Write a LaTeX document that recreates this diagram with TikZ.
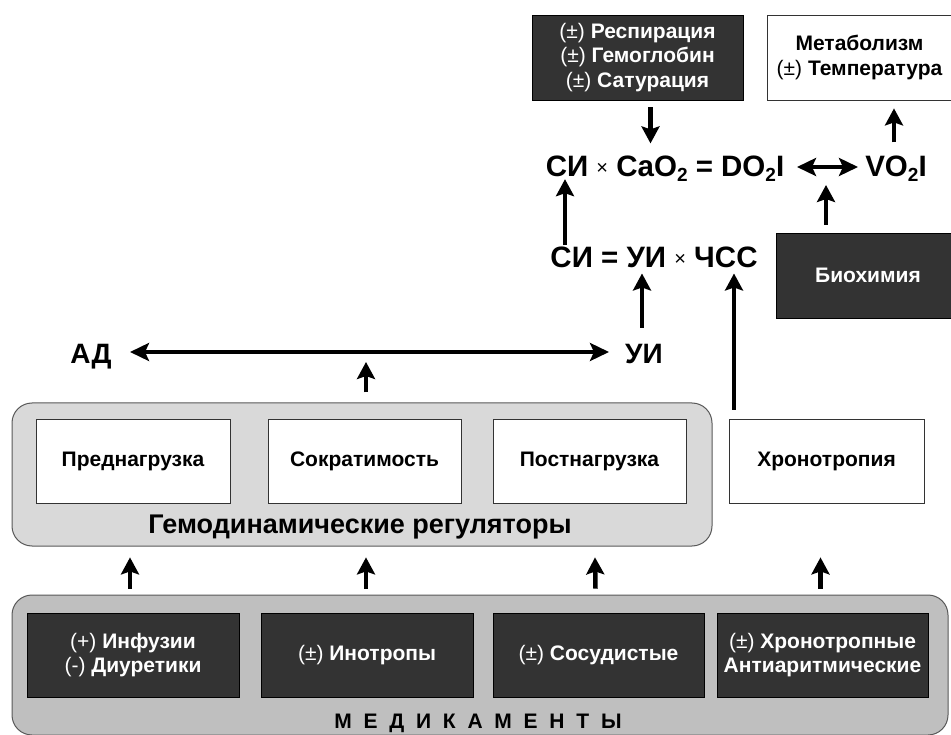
\documentclass[tikz,border=0pt]{standalone}
\usepackage{fontspec}
\setmainfont{Liberation Sans}
\usetikzlibrary{arrows.meta,calc}
\definecolor{boxdark}{HTML}{333333}
\definecolor{grayA}{HTML}{D9D9D9}
\definecolor{grayB}{HTML}{BFBFBF}
\definecolor{grayline}{HTML}{595959}
\newcommand\PMx{{\mdseries(±)}}
\newcommand\PLx{{\mdseries(+)}}
\newcommand\MIx{{\mdseries(-)}}
\newcommand\subtwo{\raisebox{-0.32ex}{\fontsize{19}{19}\selectfont 2}}
\newcommand\timesx{{\mdseries\fontsize{20}{20}\selectfont\raisebox{0.25ex}{×}}}
\newfontfamily\spacedfont[LetterSpace=56]{Liberation Sans}
\begin{document}
\begin{tikzpicture}[x=1pt,y=-1pt,
  darkbox/.style={draw=black, line width=0.8pt, fill=boxdark, text=white,
    font=\bfseries\fontsize{21}{24.5}\selectfont, align=center, inner sep=0pt},
  whitebox/.style={draw=black!80, line width=0.8pt, fill=white,
    font=\bfseries\fontsize{21}{24.5}\selectfont, align=center, inner sep=0pt},
  eqtext/.style={font=\bfseries\fontsize{29.5}{30}\selectfont, inner sep=0pt, anchor=base},
  arr/.style={line width=4.5pt, -{Stealth[width=18pt,length=17pt,inset=3pt]}},
  darr/.style={line width=4.5pt, {Stealth[width=18pt,length=19pt,inset=4pt]}-{Stealth[width=18pt,length=19pt,inset=4pt]}},
  panel/.style={draw=grayline, line width=1pt, rounded corners=20pt}
]
\useasboundingbox (0,0) rectangle (951,735);

% panels
\node[panel, fill=grayA, minimum width=700pt, minimum height=143pt] (hemo) at (362,474.5) {};
\node[panel, fill=grayB, minimum width=936pt, minimum height=140pt] (med) at (480,665) {};

% top boxes
\node[darkbox, minimum width=211pt, minimum height=85pt] (resp) at (637.5,57.5)
  {\PMx{} Респирация\\ \PMx{} Гемоглобин\\ \PMx{} Сатурация};
\node[whitebox, text=black, minimum width=184pt, minimum height=85pt] (meta) at (859.5,57.5)
  {Метаболизм\\ \PMx{} Температура};
\node[darkbox, minimum width=175pt, minimum height=85pt] (bio) at (863.5,275.5) {\hspace*{9pt}Биохимия};

% equations
\node[eqtext] (eqA) at (665,177) {СИ \timesx{} CaO\subtwo{} = DO\subtwo I};
\node[eqtext] (vo) at (896,177) {VO\subtwo I};
\node[eqtext] (eqB) at (654,268) {СИ = УИ \timesx{} ЧСС};
\node[eqtext, font=\bfseries\fontsize{28}{30}\selectfont] (ad) at (91,363) {АД};
\node[eqtext, font=\bfseries\fontsize{28}{30}\selectfont] (ui) at (644,363) {УИ};

% hemodynamic regulators
\node[whitebox, minimum width=194pt, minimum height=84pt] (pre) at (133,461) {Преднагрузка};
\node[whitebox, minimum width=193pt, minimum height=84pt] (sok) at (364.5,461) {Сократимость};
\node[whitebox, minimum width=193pt, minimum height=84pt] (post) at (589.5,461) {Постнагрузка};
\node[whitebox, minimum width=195pt, minimum height=84pt] (hron) at (826.5,461) {Хронотропия};
\node[font=\bfseries\fontsize{27}{28}\selectfont, inner sep=0pt] (hemolbl) at (360,527) {Гемодинамические регуляторы};

% medicaments
\node[darkbox, minimum width=212pt, minimum height=84pt] (m1) at (133,655) {\PLx{} Инфузии\\ \MIx{} Диуретики};
\node[darkbox, minimum width=212pt, minimum height=84pt] (m2) at (367,655) {\PMx{} Инотропы};
\node[darkbox, minimum width=211pt, minimum height=84pt] (m3) at (598.5,655) {\PMx{} Сосудистые};
\node[darkbox, minimum width=211pt, minimum height=84pt] (m4) at (822.5,655) {\PMx{} Хронотропные\\ Антиаритмические};
\node[font=\bfseries\fontsize{21}{24}\selectfont, inner sep=0pt] (medlbl) at (478,723) {\spacedfont\bfseries МЕДИКАМЕНТЫ};

% connector coordinates
\coordinate (adL) at (130,352);
\coordinate (adR) at (609,352);
\coordinate (admid) at (366,352);
\coordinate (dblL) at (797,167);
\coordinate (dblR) at (858,167);
\coordinate (dblmid) at (826,167);

% arrows
\draw[darr] (adL) -- (adR);
\draw[arr] ($(hemo.north -| admid)+(0,-10)$) -- ($(admid)+(0,10)$);
\draw[darr] (dblL) -- (dblR);
\draw[arr] ($(bio.north -| dblmid)+(0,-8)$) -- ($(dblmid)+(0,18)$);
\draw[arr] ($(resp.south)+(13,7)$) -- ($(resp.south)+(13,43)$);
\draw[arr] ($(meta.south -| vo)+(-2,42)$) -- ($(meta.south -| vo)+(-2,8)$);
\draw[arr] ($(eqB.north -| 565,0)+(0,-2)$) -- ($(eqA.south -| 565,0)+(0,-3)$);
\draw[arr] ($(ui.north -| 642,0)+(0,-16)$) -- ($(eqB.south -| 642,0)+(0,5)$);
\draw[arr] ($(hron.north -| 734,0)+(0,-9)$) -- ($(eqB.south -| 734,0)+(0,5)$);

\draw[arr] ($(m1.north)+(-3,-24)$) -- ($(pre.south)+(-3,54)$);
\draw[arr] ($(m2.north)+(-1,-24)$) -- ($(sok.south)+(1.5,54)$);
\draw[arr] ($(m3.north)+(-3,-24)$) -- ($(post.south)+(5.5,54)$);
\draw[arr] ($(m4.north)+(-2,-24)$) -- ($(hron.south)+(-6,54)$);
\end{tikzpicture}
\end{document}
